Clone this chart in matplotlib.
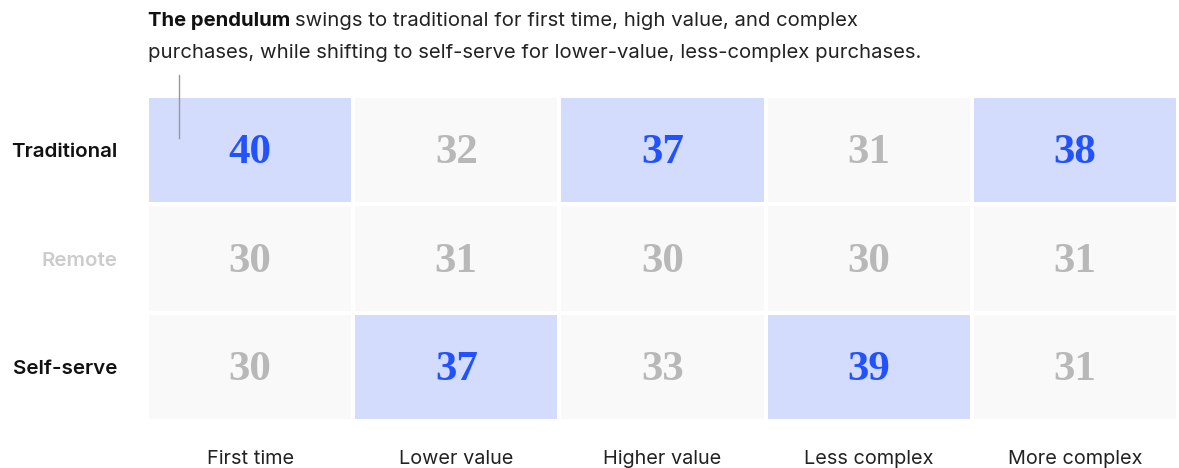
import matplotlib.pyplot as plt
import numpy as np
from matplotlib.colors import ListedColormap
from matplotlib.lines import Line2D

# data
channels = ["Traditional", "Remote", "Self-serve"]
purchase_types = ["First time", "Lower value", "Higher value", "Less complex", "More complex"]
traditional = [40, 32, 37, 31, 38]
remote = [30, 31, 30, 30, 31]
self_serve = [30, 37, 33, 39, 31]

values = np.array([traditional, remote, self_serve])
# highlight the winning channel in each column
is_max = (values == values.max(axis=0)).astype(int)

W, H = 1179, 468
fig = plt.figure(figsize=(W / 100, H / 100), dpi=100)
ax = fig.add_axes([147 / W, 47 / H, (1178 - 147) / W, (372 - 47) / H])

cmap = ListedColormap(["#f9f9f9", "#d3dcfd"])
ax.pcolormesh(is_max, cmap=cmap, vmin=0, vmax=1, edgecolors="white", linewidth=1.6)
ax.set_xlim(0, len(purchase_types))
ax.set_ylim(len(channels), 0)

for r in range(len(channels)):
    for c in range(len(purchase_types)):
        hi = is_max[r, c] == 1
        ax.text(c + 0.5, r + 0.53, str(values[r, c]),
                ha="center", va="center", fontsize=31,
                family="Liberation Serif", fontweight="bold",
                color="#2251ff" if hi else "#b8b8b8")

ax.set_xticks(np.arange(len(purchase_types)) + 0.5)
ax.set_xticklabels(purchase_types, fontsize=14.3, family="Inter", color="#222222")
ax.set_yticks(np.arange(len(channels)) + 0.5)
ax.set_yticklabels(channels, fontsize=14.8, family="Inter", fontweight="semibold")
for lab, col in zip(ax.get_yticklabels(), ["#111111", "#cccccc", "#111111"]):
    lab.set_color(col)
ax.tick_params(length=0, pad=0)
ax.tick_params(axis="x", pad=21)
ax.tick_params(axis="y", pad=21)
for s in ax.spines.values():
    s.set_visible(False)

# title, bold lead-in followed by regular text
ty1, ty2 = 1 - 21 / H, 1 - 53 / H
t1 = fig.text(148 / W, ty1, "The pendulum", fontsize=14.6, family="Inter",
              fontweight="bold", va="center", color="#111111")
fig.canvas.draw()
bb = t1.get_window_extent()
fig.text(bb.x1 / W + 5 / W, ty1,
         "swings to traditional for first time, high value, and complex",
         fontsize=14.6, family="Inter", va="center", color="#222222")
fig.text(148 / W, ty2,
         "purchases, while shifting to self-serve for lower-value, less-complex purchases.",
         fontsize=14.6, family="Inter", va="center", color="#222222")

fig.add_artist(Line2D([179 / W, 179 / W], [1 - 75 / H, 1 - 138 / H],
                      transform=fig.transFigure, color="#999999", linewidth=1))

fig.savefig("out.png", dpi=100)
